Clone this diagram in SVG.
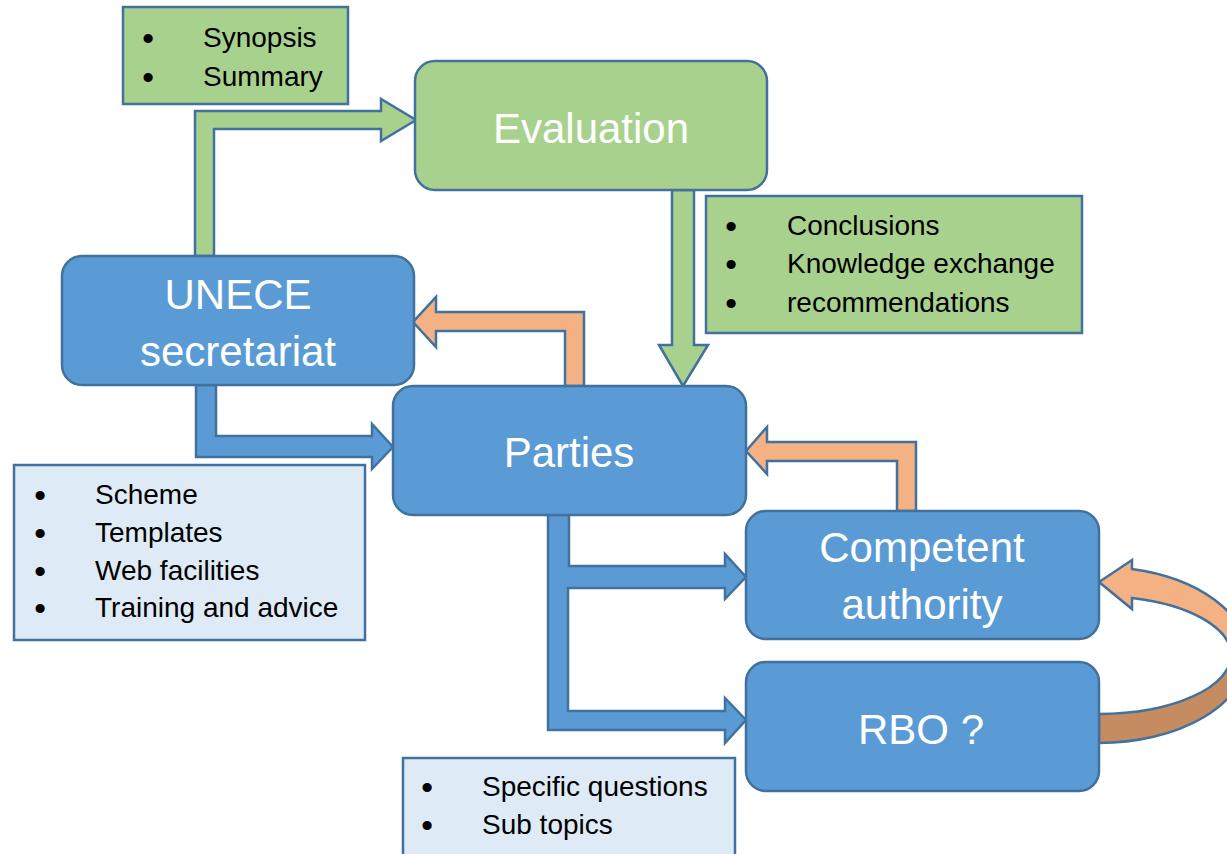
<svg xmlns="http://www.w3.org/2000/svg" width="1227" height="854" viewBox="0 0 1227 854">
<style>
.box{stroke:#41719C;stroke-width:2.5}
.blue{fill:#5B9BD5}
.green{fill:#A9D18E}
.light{fill:#DEEBF7}
.orange{fill:#F4B183}
.brown{fill:#C58C62}
.arr{stroke:#41719C;stroke-width:2.5;stroke-linejoin:miter}
.big{font-family:"Liberation Sans",Arial,sans-serif;font-size:42px;fill:#FFFFFF;text-anchor:middle}
.lst{font-family:"Liberation Sans",Arial,sans-serif;font-size:28px;fill:#000000}
.bul{font-family:"Liberation Sans",Arial,sans-serif;font-size:32px;font-weight:bold;fill:#000000;text-anchor:middle}
</style>
<rect width="1227" height="854" fill="#FFFFFF"/>
<g id="connectors">
  <path class="arr green" d="M195,256 L195,111 L381,111 L381,99 L416,120 L381,141 L381,129 L214,129 L214,256 Z"/>
  <path class="arr orange" d="M584,386 L584,312 L436,312 L436,297 L413,322 L436,347 L436,331 L565,331 L565,386 Z"/>
  <path class="arr green" d="M672,190 L672,345 L659,345 L683,386 L708,345 L694,345 L694,190 Z"/>
  <path class="arr blue" d="M196,385 L196,457 L372,457 L372,469 L393,447 L372,424 L372,436 L216,436 L216,385 Z"/>
  <path class="arr blue" d="M548,515 L548,730 L725,730 L725,743 L746,720 L725,698 L725,711 L568,711 L568,588 L725,588 L725,599 L746,577 L725,554 L725,566 L569,566 L569,515 Z"/>
  <path class="arr orange" d="M916,511 L916,442 L767,442 L767,427 L746,451 L767,474 L767,461 L897,461 L897,511 Z"/>
  <path class="arr brown" d="M1247,655 A148,88 0 0 1 1099,743 L1099,714 A132,59 0 0 0 1231,655 Z"/>
  <path class="arr orange" d="M1132,569 A148,88 0 0 1 1247,655 L1231,655 A132,59 0 0 0 1132,598 L1132,609 L1099,582 L1132,560 Z"/>
</g>
<g id="evaluation">
  <rect class="box green" x="415" y="61" width="352" height="129" rx="20"/>
  <text class="big" x="591" y="143">Evaluation</text>
</g>
<g id="unece">
  <rect class="box blue" x="62" y="256" width="352" height="129" rx="20"/>
  <text class="big" x="238" y="309">UNECE</text>
  <text class="big" x="238" y="366">secretariat</text>
</g>
<g id="parties">
  <rect class="box blue" x="393" y="386" width="353" height="129" rx="20"/>
  <text class="big" x="569" y="467">Parties</text>
</g>
<g id="competent">
  <rect class="box blue" x="746" y="511" width="353" height="128" rx="20"/>
  <text class="big" x="922" y="562">Competent</text>
  <text class="big" x="922" y="619">authority</text>
</g>
<g id="rbo">
  <rect class="box blue" x="746" y="662" width="353" height="129" rx="20"/>
  <text class="big" x="921" y="744">RBO ?</text>
</g>
<g id="note-synopsis">
  <rect class="box green" x="123" y="7" width="225" height="97" stroke-width="2"/>
  <text class="bul" x="148" y="49">•</text><text class="lst" x="203" y="47">Synopsis</text>
  <text class="bul" x="148" y="88">•</text><text class="lst" x="203" y="86">Summary</text>
</g>
<g id="note-conclusions">
  <rect class="box green" x="706" y="196" width="376" height="137" stroke-width="2"/>
  <text class="bul" x="731" y="237">•</text><text class="lst" x="787" y="235">Conclusions</text>
  <text class="bul" x="731" y="275">•</text><text class="lst" x="787" y="273">Knowledge exchange</text>
  <text class="bul" x="731" y="314">•</text><text class="lst" x="787" y="312">recommendations</text>
</g>
<g id="note-scheme">
  <rect class="box light" x="14" y="465" width="351" height="175" stroke-width="2"/>
  <text class="bul" x="40" y="506">•</text><text class="lst" x="95" y="504">Scheme</text>
  <text class="bul" x="40" y="544">•</text><text class="lst" x="95" y="542">Templates</text>
  <text class="bul" x="40" y="582">•</text><text class="lst" x="95" y="580">Web facilities</text>
  <text class="bul" x="40" y="619">•</text><text class="lst" x="95" y="617">Training and advice</text>
</g>
<g id="note-specific">
  <rect class="box light" x="403" y="758" width="332" height="110" stroke-width="2"/>
  <text class="bul" x="427" y="798">•</text><text class="lst" x="482" y="796">Specific questions</text>
  <text class="bul" x="427" y="836">•</text><text class="lst" x="482" y="834">Sub topics</text>
</g>
</svg>
